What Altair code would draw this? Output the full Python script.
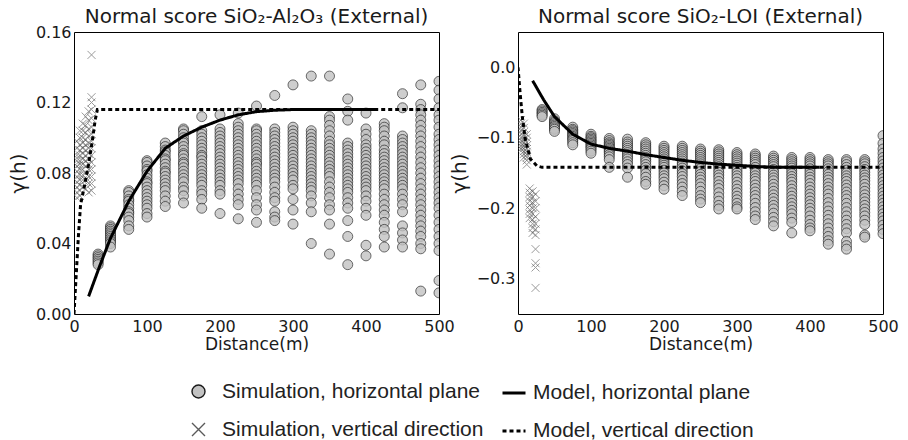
import altair as alt
import pandas as pd

# ---------------- data ----------------
SIM_H = "Simulation, horizontal plane"
SIM_V = "Simulation, vertical direction"
MOD_H = "Model, horizontal plane"
MOD_V = "Model, vertical direction"

h_lags = [33, 50, 75, 100, 125, 150, 175, 200, 225, 250, 275, 300, 325, 350,
          375, 400, 425, 450, 475, 500]
v_lags = [4, 8, 12, 16, 20, 24]

# SiO2-Al2O3, horizontal plane simulations (one list per lag)
al_h = [
    [0.034, 0.033, 0.032, 0.031, 0.030, 0.029, 0.028],
    [0.050, 0.049, 0.048, 0.047, 0.046, 0.045, 0.044, 0.043, 0.042, 0.041, 0.040, 0.038],
    [0.070, 0.069, 0.067, 0.065, 0.064, 0.062, 0.060, 0.058, 0.057, 0.055, 0.053, 0.050, 0.048],
    [0.087, 0.086, 0.084, 0.082, 0.081, 0.079, 0.077, 0.075, 0.074, 0.072, 0.070, 0.068, 0.066,
     0.064, 0.062, 0.060, 0.057, 0.055],
    [0.097, 0.095, 0.093, 0.092, 0.090, 0.088, 0.087, 0.085, 0.083, 0.081, 0.080, 0.078, 0.076,
     0.074, 0.072, 0.070, 0.067, 0.064, 0.061],
    [0.105, 0.104, 0.102, 0.100, 0.098, 0.097, 0.095, 0.093, 0.091, 0.090, 0.088, 0.086, 0.085,
     0.083, 0.081, 0.079, 0.077, 0.075, 0.072, 0.070, 0.067, 0.063],
    [0.112, 0.104, 0.102, 0.100, 0.098, 0.096, 0.094, 0.092, 0.090, 0.089, 0.087, 0.085, 0.083,
     0.081, 0.079, 0.077, 0.075, 0.073, 0.070, 0.068, 0.065, 0.060],
    [0.113, 0.105, 0.103, 0.101, 0.099, 0.097, 0.095, 0.093, 0.091, 0.089, 0.087, 0.085, 0.083,
     0.081, 0.079, 0.077, 0.075, 0.073, 0.070, 0.068, 0.057],
    [0.114, 0.108, 0.106, 0.104, 0.102, 0.100, 0.098, 0.096, 0.094, 0.092, 0.090, 0.088, 0.086,
     0.084, 0.082, 0.080, 0.078, 0.076, 0.074, 0.071, 0.068, 0.065, 0.062, 0.054],
    [0.118, 0.105, 0.104, 0.102, 0.100, 0.098, 0.096, 0.094, 0.092, 0.090, 0.088, 0.086, 0.085,
     0.083, 0.081, 0.079, 0.077, 0.075, 0.073, 0.070, 0.066, 0.062, 0.059, 0.052],
    [0.124, 0.105, 0.103, 0.101, 0.099, 0.097, 0.095, 0.093, 0.091, 0.089, 0.087, 0.085, 0.083,
     0.081, 0.079, 0.077, 0.075, 0.072, 0.069, 0.066, 0.064, 0.058, 0.055, 0.053],
    [0.130, 0.106, 0.104, 0.102, 0.100, 0.098, 0.096, 0.094, 0.092, 0.090, 0.088, 0.086, 0.084,
     0.082, 0.080, 0.078, 0.076, 0.073, 0.071, 0.065, 0.059, 0.051],
    [0.135, 0.104, 0.102, 0.100, 0.098, 0.096, 0.094, 0.092, 0.090, 0.088, 0.086, 0.084, 0.082,
     0.080, 0.078, 0.076, 0.074, 0.072, 0.070, 0.067, 0.063, 0.058, 0.040],
    [0.135, 0.112, 0.110, 0.107, 0.104, 0.101, 0.098, 0.096, 0.094, 0.092, 0.090, 0.088, 0.086,
     0.084, 0.082, 0.080, 0.078, 0.075, 0.072, 0.069, 0.066, 0.062, 0.059, 0.051, 0.034],
    [0.122, 0.115, 0.110, 0.097, 0.095, 0.093, 0.091, 0.089, 0.087, 0.085, 0.083, 0.081, 0.079,
     0.077, 0.075, 0.073, 0.071, 0.069, 0.066, 0.063, 0.060, 0.053, 0.044, 0.028],
    [0.114, 0.105, 0.102, 0.099, 0.096, 0.094, 0.092, 0.090, 0.088, 0.086, 0.084, 0.082, 0.080,
     0.078, 0.076, 0.074, 0.072, 0.070, 0.067, 0.064, 0.060, 0.056, 0.039, 0.033],
    [0.108, 0.106, 0.104, 0.101, 0.098, 0.096, 0.093, 0.091, 0.089, 0.087, 0.085, 0.083, 0.081,
     0.079, 0.077, 0.075, 0.073, 0.071, 0.068, 0.065, 0.062, 0.059, 0.056, 0.052, 0.048, 0.044,
     0.038],
    [0.125, 0.117, 0.101, 0.099, 0.097, 0.095, 0.093, 0.091, 0.089, 0.087, 0.085, 0.083, 0.081,
     0.079, 0.077, 0.075, 0.073, 0.071, 0.068, 0.065, 0.062, 0.058, 0.050, 0.046, 0.042, 0.038],
    [0.130, 0.119, 0.116, 0.113, 0.110, 0.107, 0.104, 0.101, 0.098, 0.095, 0.092, 0.089, 0.086,
     0.083, 0.080, 0.077, 0.074, 0.071, 0.068, 0.065, 0.062, 0.059, 0.056, 0.053, 0.050, 0.047,
     0.044, 0.040, 0.037, 0.013],
    [0.132, 0.127, 0.122, 0.117, 0.113, 0.110, 0.106, 0.102, 0.099, 0.096, 0.093, 0.090, 0.087,
     0.084, 0.081, 0.078, 0.075, 0.072, 0.069, 0.066, 0.063, 0.060, 0.056, 0.052, 0.048, 0.044,
     0.040, 0.036, 0.019, 0.012],
]

# SiO2-Al2O3, vertical direction simulations
al_v = [
    [0.098, 0.094, 0.090, 0.087, 0.084, 0.081, 0.078, 0.075, 0.072, 0.069, 0.066],
    [0.104, 0.100, 0.096, 0.093, 0.090, 0.087, 0.085, 0.082, 0.079, 0.076, 0.073, 0.070, 0.067],
    [0.108, 0.104, 0.100, 0.097, 0.094, 0.091, 0.088, 0.085, 0.082, 0.079, 0.076, 0.072],
    [0.112, 0.107, 0.103, 0.099, 0.096, 0.093, 0.090, 0.087, 0.084, 0.080, 0.076, 0.071],
    [0.115, 0.110, 0.105, 0.101, 0.097, 0.094, 0.091, 0.088, 0.085, 0.082, 0.078, 0.074, 0.069],
    [0.147, 0.123, 0.120, 0.116, 0.111, 0.106, 0.102, 0.098, 0.094, 0.090, 0.086, 0.082, 0.078,
     0.074, 0.070],
]

# SiO2-LOI, horizontal plane simulations
loi_h = [
    [-0.060, -0.062, -0.064, -0.066, -0.068, -0.070],
    [-0.073, -0.076, -0.078, -0.080, -0.082, -0.084, -0.086, -0.088, -0.091],
    [-0.085, -0.088, -0.090, -0.092, -0.094, -0.096, -0.098, -0.100, -0.102, -0.104, -0.107, -0.110],
    [-0.095, -0.098, -0.100, -0.102, -0.104, -0.106, -0.108, -0.110, -0.112, -0.114, -0.116,
     -0.119, -0.122],
    [-0.101, -0.104, -0.107, -0.109, -0.111, -0.113, -0.115, -0.117, -0.119, -0.121, -0.124,
     -0.127, -0.131, -0.142],
    [-0.102, -0.106, -0.109, -0.112, -0.115, -0.118, -0.121, -0.124, -0.127, -0.130, -0.134,
     -0.138, -0.143, -0.156],
    [-0.107, -0.110, -0.113, -0.116, -0.119, -0.122, -0.125, -0.128, -0.131, -0.134, -0.138,
     -0.142, -0.146, -0.151, -0.156, -0.162, -0.166],
    [-0.112, -0.115, -0.118, -0.121, -0.124, -0.127, -0.130, -0.133, -0.136, -0.139, -0.142,
     -0.146, -0.150, -0.154, -0.158, -0.163, -0.168, -0.173],
    [-0.112, -0.115, -0.118, -0.121, -0.124, -0.127, -0.130, -0.133, -0.136, -0.139, -0.143,
     -0.147, -0.151, -0.155, -0.160, -0.165, -0.170, -0.176, -0.182],
    [-0.116, -0.119, -0.122, -0.125, -0.128, -0.131, -0.134, -0.137, -0.140, -0.144, -0.148,
     -0.152, -0.156, -0.160, -0.165, -0.170, -0.176, -0.182, -0.187, -0.192],
    [-0.117, -0.120, -0.123, -0.126, -0.129, -0.132, -0.135, -0.138, -0.141, -0.145, -0.149,
     -0.153, -0.157, -0.162, -0.167, -0.172, -0.178, -0.184, -0.190, -0.196, -0.201],
    [-0.121, -0.124, -0.127, -0.130, -0.133, -0.136, -0.139, -0.142, -0.146, -0.150, -0.154,
     -0.158, -0.163, -0.168, -0.173, -0.178, -0.183, -0.188, -0.193, -0.198, -0.201],
    [-0.123, -0.126, -0.129, -0.132, -0.135, -0.138, -0.142, -0.146, -0.150, -0.154, -0.158,
     -0.162, -0.167, -0.172, -0.177, -0.182, -0.187, -0.193, -0.199, -0.205, -0.211, -0.216],
    [-0.126, -0.129, -0.132, -0.135, -0.138, -0.141, -0.145, -0.149, -0.153, -0.157, -0.161,
     -0.166, -0.171, -0.176, -0.181, -0.186, -0.191, -0.196, -0.201, -0.207, -0.213, -0.219,
     -0.225],
    [-0.128, -0.131, -0.134, -0.137, -0.140, -0.143, -0.147, -0.151, -0.155, -0.159, -0.163,
     -0.168, -0.173, -0.178, -0.183, -0.188, -0.193, -0.198, -0.203, -0.208, -0.214, -0.220,
     -0.235],
    [-0.128, -0.131, -0.134, -0.137, -0.140, -0.144, -0.148, -0.152, -0.156, -0.160, -0.165,
     -0.170, -0.175, -0.180, -0.185, -0.190, -0.195, -0.200, -0.205, -0.211, -0.217, -0.223,
     -0.228, -0.232],
    [-0.131, -0.134, -0.137, -0.140, -0.144, -0.148, -0.152, -0.156, -0.160, -0.165, -0.170,
     -0.175, -0.180, -0.186, -0.192, -0.198, -0.204, -0.210, -0.216, -0.222, -0.228, -0.234,
     -0.240, -0.246, -0.251],
    [-0.131, -0.134, -0.138, -0.142, -0.146, -0.150, -0.154, -0.158, -0.162, -0.167, -0.172,
     -0.177, -0.182, -0.187, -0.193, -0.199, -0.205, -0.211, -0.217, -0.223, -0.229, -0.235,
     -0.247, -0.253, -0.258],
    [-0.131, -0.134, -0.137, -0.141, -0.145, -0.149, -0.153, -0.157, -0.161, -0.166, -0.171,
     -0.176, -0.181, -0.186, -0.191, -0.196, -0.201, -0.206, -0.211, -0.217, -0.223, -0.238,
     -0.241],
    [-0.097, -0.108, -0.116, -0.122, -0.128, -0.133, -0.138, -0.143, -0.148, -0.153, -0.158,
     -0.163, -0.168, -0.173, -0.178, -0.183, -0.188, -0.193, -0.198, -0.203, -0.208, -0.213,
     -0.218, -0.224, -0.230, -0.236],
]

# SiO2-LOI, vertical direction simulations
loi_v = [
    [-0.075, -0.080, -0.085, -0.090, -0.095, -0.100, -0.104, -0.108, -0.112, -0.116],
    [-0.080, -0.086, -0.092, -0.097, -0.102, -0.107, -0.111, -0.115, -0.119, -0.123, -0.128],
    [-0.095, -0.100, -0.106, -0.111, -0.116, -0.120, -0.124, -0.128, -0.132, -0.138],
    [-0.172, -0.178, -0.184, -0.190, -0.196, -0.202, -0.208, -0.214],
    [-0.176, -0.184, -0.192, -0.200, -0.208, -0.216, -0.222, -0.228, -0.235],
    [-0.180, -0.190, -0.200, -0.212, -0.222, -0.230, -0.238, -0.258, -0.278, -0.284, -0.313],
]

# fitted models
al_mh_d = [20, 35, 50, 75, 100, 125, 150, 175, 200, 225, 250, 275, 300, 350, 414]
al_mh_g = [0.010, 0.027, 0.043, 0.064, 0.081, 0.094, 0.101, 0.106, 0.110, 0.113, 0.1148,
           0.1156, 0.116, 0.116, 0.116]
al_mv_d = [0, 3, 6, 9, 14, 20, 25, 29, 32, 500]
al_mv_g = [0.0, 0.022, 0.044, 0.062, 0.072, 0.085, 0.098, 0.110, 0.116, 0.116]

loi_mh_d = [20, 35, 50, 75, 100, 125, 150, 175, 200, 225, 250, 275, 300, 330, 360, 413]
loi_mh_g = [-0.019, -0.046, -0.070, -0.095, -0.109, -0.115, -0.119, -0.124, -0.128, -0.132,
            -0.135, -0.1375, -0.139, -0.141, -0.142, -0.142]
loi_mv_d = [0, 3, 6, 10, 17, 26, 33, 500]
loi_mv_g = [0.0, -0.038, -0.071, -0.102, -0.130, -0.140, -0.142, -0.142]


def sim_frame(lags, vals, label):
    rows = [{"d": d, "g": v, "sim": label} for d, vs in zip(lags, vals) for v in vs]
    return pd.DataFrame(rows)


def model_frame(dh, gh, dv, gv):
    rows = [{"d": d, "g": g, "model": MOD_H, "k": i} for i, (d, g) in enumerate(zip(dh, gh))]
    rows += [{"d": d, "g": g, "model": MOD_V, "k": i} for i, (d, g) in enumerate(zip(dv, gv))]
    return pd.DataFrame(rows)


X_PATH = "M-1,-1L1,1M-1,1L1,-1"
shape_sc = alt.Scale(domain=[SIM_H, SIM_V], range=["circle", X_PATH])
fill_sc = alt.Scale(domain=[SIM_H, SIM_V], range=["#c2c2c2", "transparent"])
stroke_sc = alt.Scale(domain=[SIM_H, SIM_V], range=["#1a1a1a", "#5a5a5a"])
dash_sc = alt.Scale(domain=[MOD_H, MOD_V], range=[[1, 0], [4, 3]])

LEG_FONT = "Liberation Sans"
leg_pts = alt.Legend(title=None, orient="none", legendX=114, legendY=349,
                     direction="vertical", labelFont=LEG_FONT, labelFontSize=21,
                     labelColor="#222222", labelLimit=0, symbolSize=169,
                     symbolStrokeWidth=1.4, rowPadding=16, labelOffset=13, padding=0,
                     symbolOpacity=1)
leg_lines = alt.Legend(title=None, orient="none", legendX=427, legendY=348,
                       direction="vertical", labelFont=LEG_FONT, labelFontSize=21,
                       labelColor="#222222", labelLimit=0, symbolSize=529,
                       symbolStrokeWidth=3, symbolStrokeColor="black", symbolType="stroke",
                       rowPadding=15, labelOffset=6, padding=0)


def panel(title, title_offset, sh, sv, model, ydom, yvals, yfmt):
    x = alt.X("d:Q", scale=alt.Scale(domain=[0, 500], nice=False),
              axis=alt.Axis(values=[0, 100, 200, 300, 400, 500], title="Distance(m)"))
    y = alt.Y("g:Q", scale=alt.Scale(domain=ydom, nice=False, zero=False),
              axis=alt.Axis(values=yvals, format=yfmt, title="γ(h)"))
    enc = dict(
        shape=alt.Shape("sim:N", scale=shape_sc, legend=leg_pts),
        fill=alt.Fill("sim:N", scale=fill_sc, legend=leg_pts),
        stroke=alt.Stroke("sim:N", scale=stroke_sc, legend=leg_pts),
    )
    pv = alt.Chart(sv).mark_point(size=64, strokeWidth=1, opacity=0.6, clip=True).encode(
        x=x, y=y, **enc)
    ph = alt.Chart(sh).mark_point(size=100, strokeWidth=0.8, opacity=0.8, clip=True).encode(
        x=x, y=y, **enc)
    ln = alt.Chart(model).mark_line(color="black", strokeWidth=3, clip=True).encode(
        x=x, y=y, order="k:Q",
        strokeDash=alt.StrokeDash("model:N", scale=dash_sc, legend=leg_lines))
    return alt.layer(pv, ph, ln).properties(
        width=365, height=282,
        title=alt.Title(title, anchor="middle", frame="group", offset=title_offset))


left = panel("Normal score SiO₂-Al₂O₃ (External)", -3,
             sim_frame(h_lags, al_h, SIM_H), sim_frame(v_lags, al_v, SIM_V),
             model_frame(al_mh_d, al_mh_g, al_mv_d, al_mv_g),
             [0, 0.16], [0, 0.04, 0.08, 0.12, 0.16], ".2f")
right = panel("Normal score SiO₂-LOI (External)", 5,
              sim_frame(h_lags, loi_h, SIM_H), sim_frame(v_lags, loi_v, SIM_V),
              model_frame(loi_mh_d, loi_mh_g, loi_mv_d, loi_mv_g),
              [-0.35, 0.05], [0.0, -0.1, -0.2, -0.3], ".1f")

chart = alt.hconcat(left, right, spacing=79, bounds="flush").resolve_scale(
    shape="shared", fill="shared", stroke="shared", strokeDash="shared",
    x="independent", y="independent",
).properties(
    padding={"left": 7, "top": 6, "right": 0, "bottom": 0},
    background="white",
).configure_view(
    stroke="black", strokeWidth=1,
).configure_axis(
    domain=False, ticks=False, grid=False, labelFlush=False,
    labelFont="DejaVu Sans", labelFontSize=16, labelColor="#1a1a1a",
    titleFont="DejaVu Sans", titleColor="#1a1a1a", titleFontWeight="normal",
).configure_axisX(
    labelPadding=4, titlePadding=2, titleFontSize=17,
).configure_axisY(
    labelPadding=3, titlePadding=7, titleFontSize=20,
).configure_title(
    font="DejaVu Sans", fontSize=20, fontWeight="normal", color="#1a1a1a",
)

chart.save("out.html", embed_options={"renderer": "svg", "actions": False})
